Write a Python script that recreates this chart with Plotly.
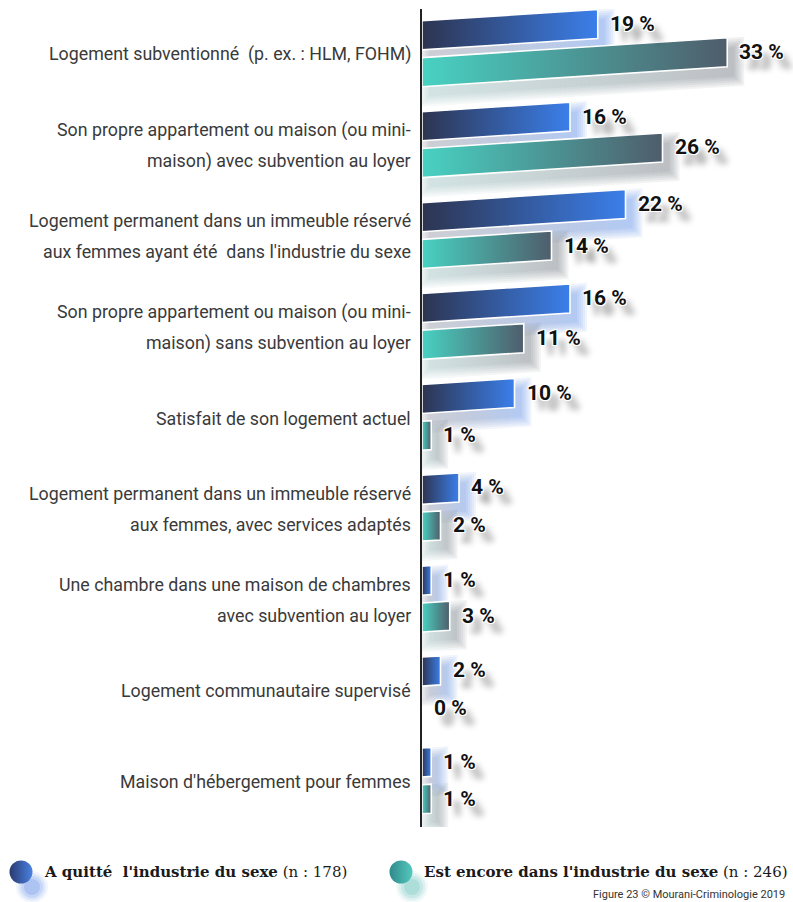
import plotly.graph_objects as go

# ---- data -------------------------------------------------------------
categories = [
    ["Logement subventionné&nbsp; (p. ex. : HLM, FOHM)"],
    ["Son propre appartement ou maison (ou mini-", "maison) avec subvention au loyer"],
    ["Logement permanent dans un immeuble réservé",
     "aux femmes ayant été&nbsp; dans l'industrie du sexe"],
    ["Son propre appartement ou maison (ou mini-", "maison) sans subvention au loyer"],
    ["Satisfait de son logement actuel"],
    ["Logement permanent dans un immeuble réservé", "aux femmes, avec services adaptés"],
    ["Une chambre dans une maison de chambres", "avec subvention au loyer"],
    ["Logement communautaire supervisé"],
    ["Maison d'hébergement pour femmes"],
]
a_quitte = [19, 16, 22, 16, 10, 4, 1, 2, 1]
encore = [33, 26, 14, 11, 1, 2, 3, 0, 1]
series_names = ["A quitté&nbsp; l'industrie du sexe", "Est encore dans l'industrie du sexe"]
series_n = [178, 246]
footer = "Figure 23 © Mourani-Criminologie 2019"

# ---- geometry / style -------------------------------------------------
W, H = 793, 902
PLOT_L, PLOT_T, PLOT_B = 422, 9, 827
PX = 9.25                                   # pixels per percentage point
NCAT = len(categories)
YPX = (PLOT_B - PLOT_T) / NCAT              # pixels per category
XMAX = (W - PLOT_L) / PX

HALF = 0.16                                 # half bar thickness (category units)
OFFSETS = [-0.21, 0.195]                    # bar centre offset inside a category
TILT = 0.065                                # rise of the bars, px per px
TILT_U = TILT * PX / YPX                    # same in y units per %

GRADS = [("#2d3450", "#3b7fea"), ("#48d2c2", "#4f5d6b")]
SHADOW_RGB = [((70, 75, 95), (59, 120, 230)), ((90, 150, 150), (85, 90, 100))]
LEGEND_GRADS = [("#2a3a70", "#4a82e2"), ("#2f8a8c", "#55c8bd")]
LEGEND_SHADOW = ["#3b6fe0", "#3fb0a8"]


def rgba(c, a):
    return "rgba(%d,%d,%d,%.3f)" % (c[0], c[1], c[2], a)


def bar_polygon(v, yc, dx=0.0, dy=0.0, grow=0.0):
    """Tilted bar outline from 0 to v, offsets given in pixels."""
    x0 = (dx - grow) / PX
    x1 = v + (dx + grow) / PX
    def top(x):
        return yc - HALF - grow / YPX + dy / YPX - TILT_U * x
    def bot(x):
        return yc + HALF + grow / YPX + dy / YPX - TILT_U * x
    xs = [x0, x1, x1, x0, x0]
    ys = [top(x0), top(x1), bot(x1), bot(x0), top(x0)]
    return xs, ys


fig = go.Figure()
series = [a_quitte, encore]

# soft drop shadows behind the bars
for s, vals in enumerate(series):
    c0, c1 = SHADOW_RGB[s]
    for i, v in enumerate(vals):
        if v <= 0:
            continue
        yc = i + OFFSETS[s]
        for g in (10, 8, 6, 4, 2, 0):
            xs, ys = bar_polygon(v, yc, dx=7, dy=10, grow=g)
            fig.add_trace(go.Scatter(
                x=xs, y=ys, mode="lines", fill="toself",
                line=dict(width=0, color="rgba(0,0,0,0)"),
                fillgradient=dict(type="horizontal",
                                  colorscale=[[0, rgba(c0, 0.05)], [1, rgba(c1, 0.08)]]),
                hoverinfo="skip", showlegend=False))

# bars with horizontal gradient and thin white outline
for s, vals in enumerate(series):
    for i, v in enumerate(vals):
        if v <= 0:
            continue
        yc = i + OFFSETS[s]
        xs, ys = bar_polygon(v, yc)
        fig.add_trace(go.Scatter(
            x=xs, y=ys, mode="lines", fill="toself",
            line=dict(width=1.6, color="#ffffff"),
            fillgradient=dict(type="horizontal",
                              colorscale=[[0, GRADS[s][0]], [1, GRADS[s][1]]]),
            hoverinfo="skip", showlegend=False))

# value labels at the end of each bar
label_shadow = ("-1px -1px 0 #fff, 1px -1px 0 #fff, -1px 1px 0 #fff, 1px 1px 0 #fff, "
                "8px 10px 6px rgba(0,0,0,0.45)")
for s, vals in enumerate(series):
    for i, v in enumerate(vals):
        yc = i + OFFSETS[s] - TILT_U * v
        fig.add_annotation(
            x=v, y=yc, xref="x", yref="y", text="%d %%" % v, showarrow=False,
            xanchor="left", yanchor="middle", xshift=10,
            font=dict(family="Roboto", size=21, color="#111111", weight=700,
                      shadow=label_shadow))

# category labels (one annotation per line for wide line spacing)
for i, lines in enumerate(categories):
    n = len(lines)
    for k, line in enumerate(lines):
        shift = (k - (n - 1) / 2) * 31
        fig.add_annotation(
            x=(PLOT_L - 9) / W, y=i, xref="paper", yref="y", text=line,
            showarrow=False, xanchor="right", yanchor="middle", yshift=-shift,
            font=dict(family="Roboto", size=17.8, color="#3a3a3a"))

# boundary ticks on the category axis
for i in range(NCAT + 1):
    fig.add_shape(type="line", xref="x", yref="y", xsizemode="pixel", xanchor=0,
                  x0=-19, x1=0, y0=i - 0.5, y1=i - 0.5,
                  line=dict(color="#222222", width=2))

# legend: gradient discs with soft shadow, followed by text
legend_x = [21, 401]
legend_y = 872
for s in range(2):
    cx = legend_x[s]
    for sz, op in ((32, 0.07), (27, 0.10), (22, 0.14), (16, 0.18)):
        fig.add_trace(go.Scatter(
            x=[cx + 11], y=[legend_y + 15], xaxis="x2", yaxis="y2", mode="markers",
            marker=dict(size=sz, color=LEGEND_SHADOW[s], opacity=op,
                        line=dict(width=0)),
            hoverinfo="skip", showlegend=False))
    fig.add_trace(go.Scatter(
        x=[cx], y=[legend_y], xaxis="x2", yaxis="y2", mode="markers",
        marker=dict(size=23, color=LEGEND_GRADS[s][0],
                    gradient=dict(type="horizontal", color=LEGEND_GRADS[s][1]),
                    line=dict(width=0)),
        hoverinfo="skip", showlegend=False))
    fig.add_annotation(
        x=(cx + 21) / W, y=1 - legend_y / H, xref="paper", yref="paper",
        text="<b>%s</b> (n : %d)" % (series_names[s], series_n[s]),
        showarrow=False, xanchor="left", yanchor="middle",
        font=dict(family="DejaVu Serif", size=15, color="#1a1a1a"))

fig.add_annotation(
    x=787 / W, y=1 - 894 / H, xref="paper", yref="paper", text=footer,
    showarrow=False, xanchor="right", yanchor="middle",
    font=dict(family="Roboto", size=11, color="#333333"))

fig.update_layout(
    width=W, height=H,
    margin=dict(l=0, r=0, t=0, b=0),
    paper_bgcolor="#ffffff", plot_bgcolor="rgba(0,0,0,0)",
    showlegend=False,
    xaxis=dict(domain=[PLOT_L / W, 1], range=[0, XMAX], visible=False,
               fixedrange=True),
    yaxis=dict(domain=[1 - PLOT_B / H, 1 - PLOT_T / H],
               range=[NCAT - 0.5, -0.5], showticklabels=False, ticks="",
               showgrid=False, zeroline=False, showline=True,
               linecolor="#222222", linewidth=2, fixedrange=True),
    xaxis2=dict(domain=[0, 1], range=[0, W], visible=False, anchor="y2"),
    yaxis2=dict(domain=[0, 1], range=[H, 0], visible=False, anchor="x2"),
)

fig.write_html("out.html")
